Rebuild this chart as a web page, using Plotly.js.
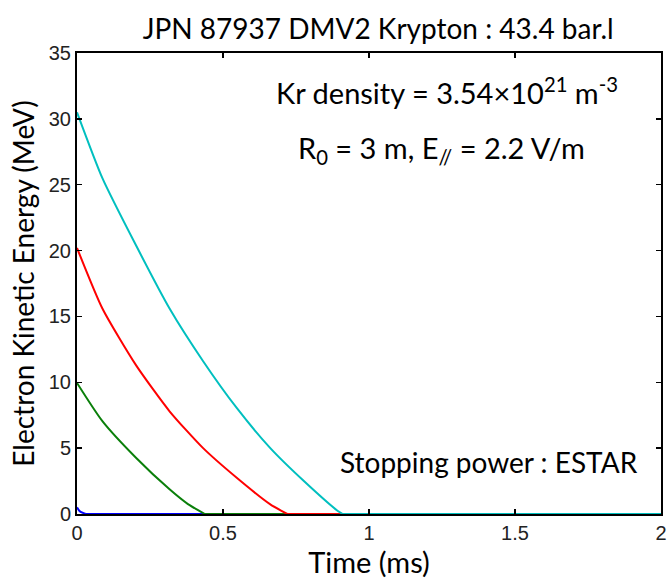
<!DOCTYPE html>
<html>
<head>
<meta charset="utf-8">
<script src="https://cdn.plot.ly/plotly-3.0.1.min.js"></script>
<style>html,body{margin:0;padding:0;background:#fff;}#chart{width:667px;height:581px;}</style>
</head>
<body>
<div id="chart"></div>
<script>
// Time (ms) and electron kinetic energy (MeV) for each initial energy
const blueT  = [0, 0.01, 0.03, 2];
const blueE  = [0.5, 0.2, 0, 0];
const greenT = [0, 0.087, 0.202, 0.317, 0.38, 0.438, 2];
const greenE = [9.95, 7.05, 4.27, 1.87, 0.75, 0, 0];
const redT   = [0, 0.087, 0.202, 0.317, 0.432, 0.547, 0.662, 0.72, 2];
const redE   = [20.2, 15.6, 11.3, 7.8, 5.0, 2.75, 0.73, 0, 0];
const cyanT  = [0, 0.087, 0.202, 0.317, 0.432, 0.547, 0.662, 0.777, 0.892, 0.91, 2];
const cyanE  = [30.5, 25.5, 20.4, 15.6, 11.6, 8.05, 5.0, 2.5, 0.25, 0, 0];
const xTicks = [0, 0.5, 1, 1.5, 2];
const xTickText = ['0', '0.5', '1', '1.5', '2'];
const yTicks = [0, 5, 10, 15, 20, 25, 30, 35];

const tfont = 'Lato, "Open Sans", sans-serif';
const data = [];
function addSeries(t, e, c) {
  // decaying part (smooth) up to where energy reaches zero, then flat part
  const k = e.indexOf(0);
  data.push({x: t.slice(0, k + 1), y: e.slice(0, k + 1), type: 'scatter', mode: 'lines',
    line: {color: c, width: 2, shape: 'spline', smoothing: 0.6}, showlegend: false, hoverinfo: 'skip'});
  data.push({x: t.slice(k), y: e.slice(k), type: 'scatter', mode: 'lines',
    line: {color: c, width: 2}, showlegend: false, hoverinfo: 'skip'});
}
addSeries(blueT, blueE, '#0000FF');
addSeries(greenT, greenE, '#0A7F0A');
addSeries(redT, redE, '#FF0000');
addSeries(cyanT, cyanE, '#00BFBF');

const axisCommon = {
  showgrid: false, zeroline: false, showline: true, linecolor: '#000', linewidth: 2,
  mirror: 'ticks', ticks: 'inside', ticklen: 5, tickwidth: 1.5, tickcolor: '#000',
  tickfont: {family: '"Liberation Sans", Arial, sans-serif', size: 20, color: '#222'}
};
const layout = {
  width: 667, height: 581,
  margin: {l: 77, r: 6, t: 53, b: 67},
  paper_bgcolor: '#fff', plot_bgcolor: '#fff',
  title: {text: 'JPN 87937 DMV2 Krypton : 43.4 bar.l', font: {family: tfont, size: 28, color: '#000'}, x: 0.567, xanchor: 'center', y: 0.95, yanchor: 'middle'},
  xaxis: Object.assign({}, axisCommon, {range: [0, 2], tickvals: xTicks, ticktext: xTickText,
    title: {text: 'Time (ms)', font: {family: tfont, size: 29, color: '#000'}, standoff: 1}}),
  yaxis: Object.assign({}, axisCommon, {range: [0, 35], tickvals: yTicks,
    title: {text: 'Electron Kinetic Energy (MeV)', font: {family: tfont, size: 28, color: '#000'}, standoff: 6}}),
  annotations: [
    {text: 'Kr density = 3.54×10<sup>21</sup> m<sup>-3</sup>', xref: 'paper', yref: 'paper', x: 0.93, y: 0.918, xanchor: 'right', yanchor: 'middle', showarrow: false, font: {family: tfont, size: 29, color: '#000'}},
    {text: 'R<sub>0</sub> = 3 m, E<sub>//</sub> = 2.2 V/m', xref: 'paper', yref: 'paper', x: 0.873, y: 0.79, xanchor: 'right', yanchor: 'middle', showarrow: false, font: {family: tfont, size: 29, color: '#000'}},
    {text: 'Stopping power : ESTAR', xref: 'paper', yref: 'paper', x: 0.964, y: 0.113, xanchor: 'right', yanchor: 'middle', showarrow: false, font: {family: tfont, size: 28, color: '#000'}}
  ]
};
Plotly.newPlot('chart', data, layout, {staticPlot: true, displayModeBar: false});
</script>
</body>
</html>
